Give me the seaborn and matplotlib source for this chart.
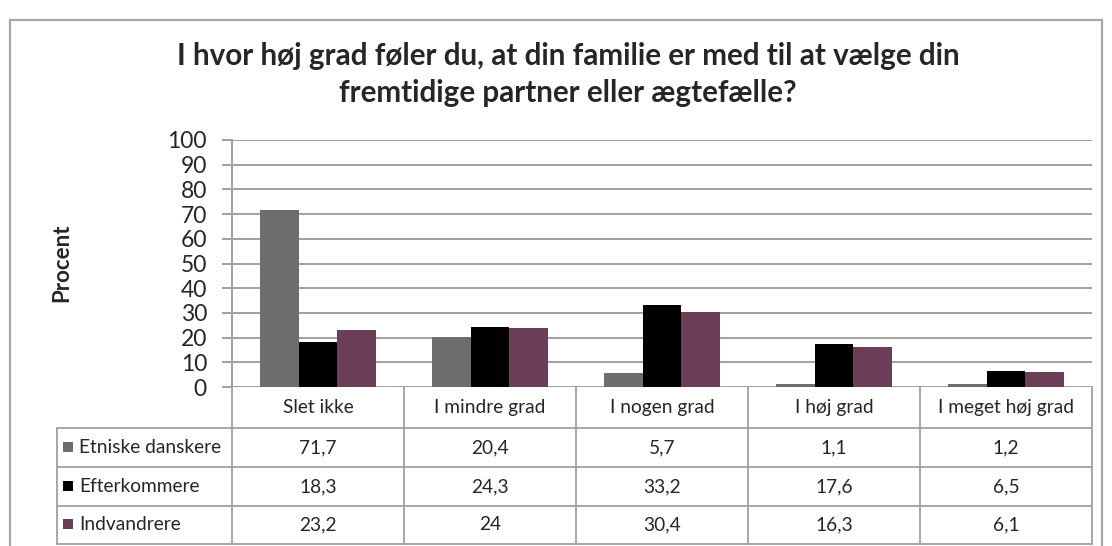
import matplotlib
matplotlib.use("Agg")
import matplotlib.pyplot as plt
import seaborn as sns
import pandas as pd
from matplotlib.lines import Line2D
from matplotlib.patches import Rectangle

categories = ["Slet ikke", "I mindre grad", "I nogen grad", "I høj grad", "I meget høj grad"]
groups = ["Etniske danskere", "Efterkommere", "Indvandrere"]
etniske = [71.7, 20.4, 5.7, 1.1, 1.2]
efterkommere = [18.3, 24.3, 33.2, 17.6, 6.5]
indvandrere = [23.2, 24, 30.4, 16.3, 6.1]
colors = ["#6d6d6d", "#000000", "#6b3d57"]
title_lines = ["I hvor høj grad føler du, at din familie er med til at vælge din",
               "fremtidige partner eller ægtefælle?"]
ylabel = "Procent"
yticks = list(range(0, 101, 10))

series = [etniske, efterkommere, indvandrere]
rows = []
for g, vals in zip(groups, series):
    for c, v in zip(categories, vals):
        rows.append({"cat": c, "group": g, "val": v})
df = pd.DataFrame(rows)

sns.set_style("white")
plt.rcParams["font.family"] = ["Lato", "DejaVu Sans"]

W, H = 1112, 546
fig = plt.figure(figsize=(W / 100, H / 100), dpi=100)

def fx(x):
    return x / W

def fy(y):
    return 1 - y / H

x0, x1, ytop, ybot = 232, 1092, 140, 387
ax = fig.add_axes([fx(x0), fy(ybot), fx(x1) - fx(x0), fy(ytop) - fy(ybot)])

sns.barplot(data=df, x="cat", y="val", hue="group", order=categories, hue_order=groups,
            palette=colors, width=0.67, saturation=1, ax=ax, legend=False,
            edgecolor="none", linewidth=0, zorder=3)

ax.set_ylim(0, 100)
ax.set_xlim(-0.5, len(categories) - 0.5)
ax.set_yticks(yticks)
ax.set_yticklabels([str(t) for t in yticks], fontsize=16.5)
ax.set_xticks([])
ax.set_xlabel("")
ax.set_ylabel("")
grid_c = "#a0a0a0"
for t in yticks:
    ax.axhline(t, color=grid_c, lw=1.4, zorder=1)
for s in ["top", "right", "bottom"]:
    ax.spines[s].set_visible(False)
ax.spines["left"].set_color(grid_c)
ax.spines["left"].set_linewidth(1.4)
ax.tick_params(axis="y", direction="out", length=7, width=1.4, color=grid_c, pad=11, left=True)

# title and y label
fig.text(fx(568), fy(56), title_lines[0], ha="center", va="center", fontsize=21.3, fontweight="bold")
fig.text(fx(568), fy(93), title_lines[1], ha="center", va="center", fontsize=21.3, fontweight="bold")
fig.text(fx(62), fy(263), ylabel, ha="center", va="center", rotation=90,
         fontsize=16, fontweight="bold")

# outer border
fig.add_artist(Line2D([fx(10), fx(10)], [fy(20), fy(560)], color="#a6a6a6", lw=1.6))
fig.add_artist(Line2D([fx(10), fx(1102)], [fy(20), fy(20)], color="#a6a6a6", lw=1.6))
fig.add_artist(Line2D([fx(1102), fx(1102)], [fy(20), fy(560)], color="#a6a6a6", lw=1.6))

# data table
tbl_c = "#a0a0a0"
lw = 1.3
col_w = (x1 - x0) / len(categories)
row_y = [387, 428, 467, 506, 544]
left_x = 57

def hline(xa, xb, y):
    fig.add_artist(Line2D([fx(xa), fx(xb)], [fy(y), fy(y)], color=tbl_c, lw=lw))

def vline(x, ya, yb):
    fig.add_artist(Line2D([fx(x), fx(x)], [fy(ya), fy(yb)], color=tbl_c, lw=lw))

for y in row_y[1:]:
    hline(left_x, x1, y)
vline(left_x, row_y[1], row_y[4])
for i in range(len(categories) + 1):
    vline(x0 + i * col_w, row_y[0], row_y[4])

fs = 13.8
for i, c in enumerate(categories):
    cx = x0 + (i + 0.5) * col_w
    fig.text(fx(cx), fy((row_y[0] + row_y[1]) / 2), c, ha="center", va="center", fontsize=fs)
for r, (g, vals, col) in enumerate(zip(groups, series, colors)):
    cy = (row_y[r + 1] + row_y[r + 2]) / 2
    fig.add_artist(Rectangle((fx(63), fy(cy + 4)), fx(10), 10 / H, color=col, lw=0))
    fig.text(fx(79), fy(cy), g, ha="left", va="center", fontsize=fs)
    for i, v in enumerate(vals):
        cx = x0 + (i + 0.5) * col_w
        lab = f"{v:g}".replace(".", ",")
        fig.text(fx(cx), fy(cy), lab, ha="center", va="center", fontsize=fs)

fig.savefig("out.png", dpi=100)
